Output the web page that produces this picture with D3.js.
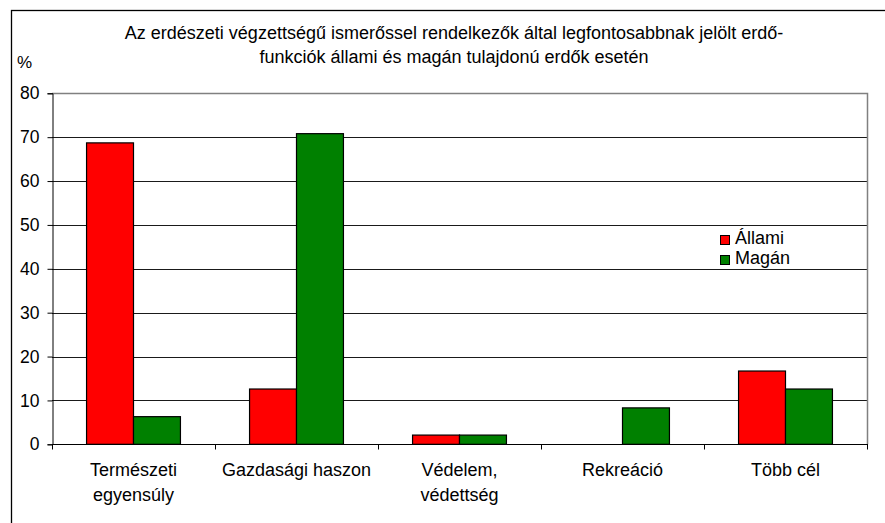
<!DOCTYPE html>
<html>
<head>
<meta charset="utf-8">
<script src="https://cdn.jsdelivr.net/npm/d3@7"></script>
<style>
  body { margin: 0; background: #fff; }
  svg text { font-family: "Liberation Sans", Arial, sans-serif; fill: #000; }
</style>
</head>
<body>
<div id="chart"></div>
<script>
// data
var categories = [["Természeti", "egyensúly"], ["Gazdasági haszon"], ["Védelem,", "védettség"], ["Rekreáció"], ["Több cél"]];
var allami = [68.7, 12.6, 2.1, 0, 16.7];
var magan = [6.3, 70.8, 2.1, 8.3, 12.6];
var seriesNames = ["Állami", "Magán"];
var seriesColors = ["#ff0000", "#008000"];
var yTicks = [0, 10, 20, 30, 40, 50, 60, 70, 80];
var titleLines = ["Az erdészeti végzettségű ismerőssel rendelkezők által legfontosabbnak jelölt erdő-",
                  "funkciók állami és magán tulajdonú erdők esetén"];

var width = 885, height = 523;
var plotLeft = 52, plotRight = 867, plotTop = 93.3, plotBottom = 444.3;

var svg = d3.select("#chart").append("svg")
            .attr("width", width)
            .attr("height", height);

// outer chart border
svg.append("rect").attr("x", 11.5).attr("y", 10.5).attr("width", 890).attr("height", 530)
   .style("fill", "none").style("stroke", "#000").style("stroke-width", 1.3);

// TITLE
svg.selectAll(".title").data(titleLines).enter().append("text")
   .attr("x", 454).attr("y", function(d, i) { return 39 + i*24; })
   .style("text-anchor", "middle").style("font-size", "18px")
   .text(function(d) { return d; });

svg.append("text").attr("x", 17).attr("y", 68).style("font-size", "17px").text("%");

// SCALES
var x0 = d3.scaleBand().domain(d3.range(categories.length)).range([plotLeft, plotRight]).padding(0);
var bw = x0.bandwidth()*0.288;
var x1 = d3.scaleBand().domain([0, 1]).range([0, bw*2]);
var y = d3.scaleLinear().domain([0, 80]).range([plotBottom, plotTop]);

// GRID
svg.selectAll(".grid").data(yTicks.slice(1, -1)).enter().append("line")
   .attr("x1", plotLeft).attr("x2", plotRight)
   .attr("y1", function(d) { return Math.round(y(d)) + 0.5; })
   .attr("y2", function(d) { return Math.round(y(d)) + 0.5; })
   .style("stroke", "#1a1a1a").style("stroke-width", 1);

// plot border top / right
svg.append("path")
   .attr("d", "M" + plotLeft + "," + (Math.round(plotTop)+0.5) + "H" + (plotRight+0.5) + "V" + plotBottom)
   .style("fill", "none").style("stroke", "#808080").style("stroke-width", 1.5);

// BARS
var barData = [];
allami.forEach(function(v, i) { barData.push({c: i, s: 0, v: v}); });
magan.forEach(function(v, i) { barData.push({c: i, s: 1, v: v}); });

svg.selectAll(".bar").data(barData.filter(function(d) { return d.v > 0; })).enter().append("rect")
   .attr("x", function(d) { return x0(d.c) + (x0.bandwidth() - bw*2)/2 + x1(d.s); })
   .attr("y", function(d) { return y(d.v); })
   .attr("width", bw)
   .attr("height", function(d) { return y(0) - y(d.v); })
   .style("fill", function(d) { return seriesColors[d.s]; })
   .style("stroke", "#000").style("stroke-width", 1.2);

// Y AXIS
var yAxis = svg.append("g").attr("transform", "translate(" + (plotLeft+0.5) + ",0)")
   .call(d3.axisLeft(y).tickValues(yTicks).tickSize(5).tickPadding(8).tickFormat(d3.format("d")));
yAxis.select(".domain").style("stroke", "#000");
yAxis.selectAll(".tick line").style("stroke", "#000");
yAxis.selectAll(".tick text").style("font-size", "17.5px").style("font-family", "Liberation Sans, Arial, sans-serif").style("fill", "#000");

// X AXIS
var xg = svg.append("g").attr("transform", "translate(0," + (Math.round(plotBottom)+0.5) + ")");
xg.append("line").attr("x1", plotLeft).attr("x2", plotRight+1).style("stroke", "#000").style("stroke-width", 1.2);
xg.selectAll(".xtick").data(d3.range(categories.length + 1)).enter().append("line")
  .attr("x1", function(d) { return Math.round(plotLeft + d*x0.bandwidth()) + 0.5; })
  .attr("x2", function(d) { return Math.round(plotLeft + d*x0.bandwidth()) + 0.5; })
  .attr("y1", 0).attr("y2", 5).style("stroke", "#000");

var xl = xg.selectAll(".xlabel").data(categories).enter().append("text")
   .attr("x", function(d, i) { return x0(i) + x0.bandwidth()/2; })
   .attr("y", 31).style("text-anchor", "middle").style("font-size", "18px");
xl.selectAll("tspan").data(function(d) { return d; }).enter().append("tspan")
   .attr("x", function() { return d3.select(this.parentNode).attr("x"); })
   .attr("dy", function(d, i) { return i === 0 ? 0 : 25; })
   .text(function(d) { return d; });

// LEGEND
var legend = svg.append("g");
legend.append("rect").attr("x", 712).attr("y", 227).attr("width", 82).attr("height", 42).style("fill", "#fff");
seriesNames.forEach(function(name, i) {
  legend.append("rect").attr("x", 720.5).attr("y", 235.5 + i*20).attr("width", 9).attr("height", 9)
        .style("fill", seriesColors[i]).style("stroke", "#000");
  legend.append("text").attr("x", 735).attr("y", 244 + i*20).style("font-size", "18px").text(name);
});
</script>
</body>
</html>
